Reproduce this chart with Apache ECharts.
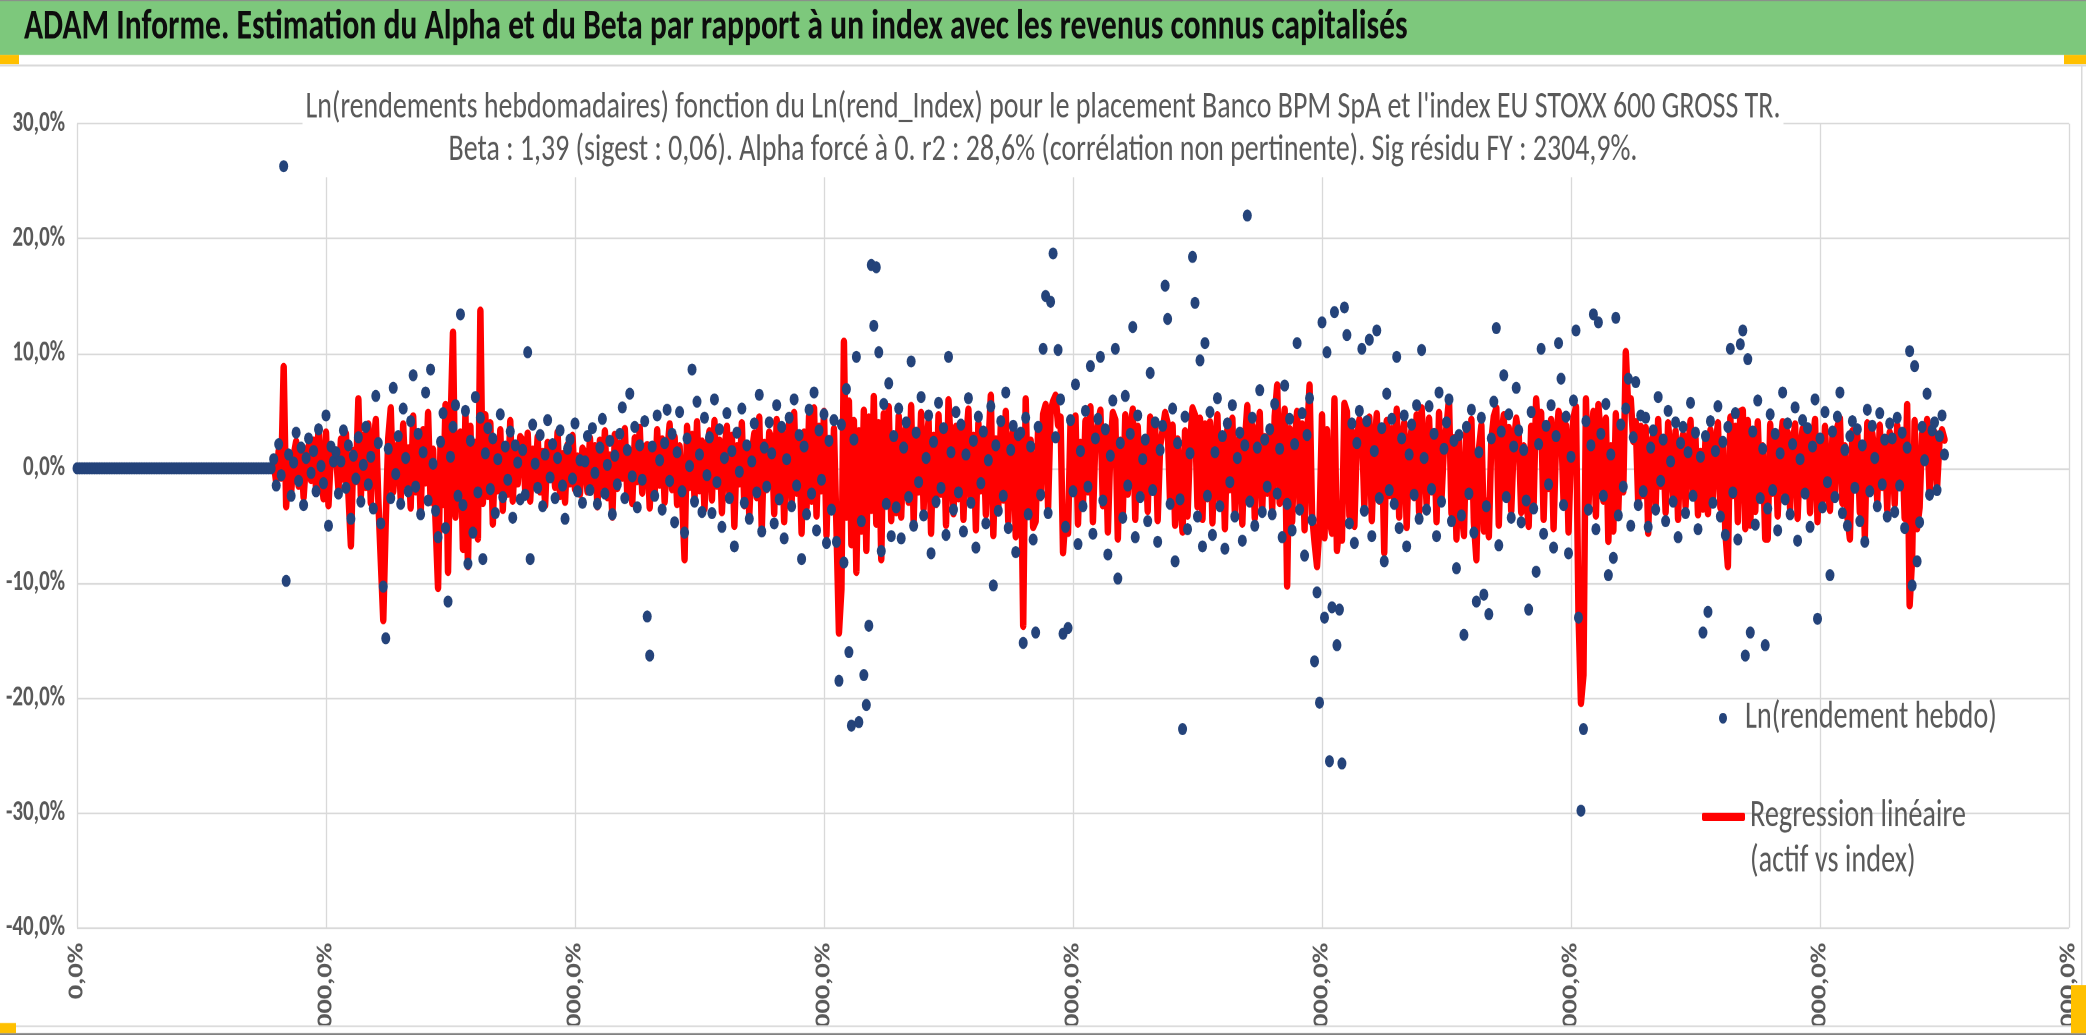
<!DOCTYPE html>
<html><head><meta charset="utf-8">
<script src="https://cdn.jsdelivr.net/npm/echarts@6/dist/echarts.min.js"></script>
<style>
html,body{margin:0;padding:0;background:#fff;overflow:hidden}
#wrap{width:2086px;height:1035px;overflow:hidden;position:relative;background:#fff}
#chart{width:2086px;height:766.667px;transform:scaleY(1.35);transform-origin:0 0}
</style></head>
<body><div id="wrap"><div id="chart"></div></div>
<script>
// ---------- texts ----------
const mainTitle = 'ADAM Informe. Estimation du Alpha et du Beta par rapport à un index avec les revenus connus capitalisés';
const subTitleLines = [
  "Ln(rendements hebdomadaires) fonction du Ln(rend_Index) pour le placement Banco BPM SpA et l'index EU STOXX 600 GROSS TR.",
  "Beta : 1,39 (sigest : 0,06). Alpha forcé à 0. r2 : 28,6% (corrélation non pertinente). Sig résidu FY : 2304,9%."
];
const blueName = 'Ln(rendement hebdo)';
const redName = 'Regression linéaire\n(actif vs index)';

// ---------- axes ----------
const yMin = -40, yMax = 30, yStep = 10;      // percent
const xMin = 0, xMax = 1600, xStep = 200;     // week index

// ---------- data (percent) ----------
const weekStep = 2;
const blueStartWeek = 0;
const redStartWeek = 158;
const blueY = [
0,0,0,0,0,0,0,0,0,0,0,0,0,0,0,0,0,0,0,0,0,0,0,0,0,0,0,0,0,0,0,0,0,0,0,0,0,0,0,0,0,0,0,0,0,0,0,0,0,0,0,0,0,0,0,0,0,0,0,0,0,0,0,0,0,0,0,0,0,0,0,0,0,0,0,0,0,0,0,
0.8,-1.5,2.1,-0.6,26.3,-9.8,1.2,-2.4,0.5,3.1,-1.1,1.8,-3.2,0.9,2.6,-0.4,1.5,-2.0,3.4,0.2,-1.3,4.6,-5.0,1.9,0.6,
1.4,-2.2,0.6,3.3,-1.7,2.0,-4.4,1.1,-0.9,2.7,-2.9,0.3,3.6,-1.4,1.0,-3.5,6.3,2.2,-4.8,-10.3,-14.8,1.7,-2.6,7.0,-0.5,
2.8,-3.1,5.2,0.9,-2.0,4.1,8.1,-1.6,3.0,-4.0,1.4,6.6,-2.8,8.6,0.4,-3.7,-6.0,2.3,4.8,-5.2,-11.6,1.0,3.6,5.5,-2.4,
13.4,-3.2,5.0,-8.3,2.4,-5.6,6.2,-2.1,4.4,-7.9,1.3,3.5,-1.8,2.6,-3.9,0.8,4.7,-2.5,1.9,-1.0,3.2,-4.3,2.0,0.5,-2.7,
1.6,-2.3,10.1,-7.9,3.8,0.4,-1.7,2.9,-3.3,1.2,4.2,-0.8,2.1,-2.6,0.9,3.3,-1.5,-4.4,1.7,2.5,-0.9,3.9,-2.0,0.7,-3.0,
0.6,2.8,-1.9,3.5,-0.4,-3.1,1.8,4.3,-2.2,0.3,2.4,-4.0,1.1,-1.4,3.0,5.3,-2.6,1.6,6.5,-0.7,3.6,-3.4,2.0,-1.0,4.1,
-12.9,-16.3,1.9,-2.4,4.6,0.7,-3.6,2.2,5.1,-1.1,3.0,-4.7,1.4,4.9,-2.0,-5.6,2.6,0.2,8.6,-2.9,5.8,1.2,-3.8,4.4,-0.6,
2.7,-3.9,6.0,-1.2,3.4,-5.1,0.9,4.8,-2.6,1.5,-6.8,3.1,-0.3,5.2,-3.0,2.0,-4.4,0.6,3.9,-2.1,6.4,-5.5,1.8,-1.6,4.0,
1.3,-4.8,5.5,-2.7,3.6,-6.1,0.8,4.4,-3.3,6.0,-1.5,2.9,-7.9,1.9,-4.0,5.1,-2.2,6.6,-5.4,3.3,-1.0,4.7,-6.5,2.4,-3.6,
4.2,-6.4,-18.5,3.8,-8.2,6.9,-16.0,-22.4,2.5,9.7,-22.1,-4.6,-18.0,-20.6,-13.7,17.7,12.4,17.5,10.1,-7.2,5.6,-3.1,7.4,-5.9,2.8,
-3.4,5.2,-6.1,1.8,4.0,-2.5,9.3,-5.0,3.1,-1.2,6.2,-4.1,0.9,4.6,-7.4,2.3,-2.9,5.7,-1.7,3.5,-5.8,9.7,1.4,-3.6,4.9,
-2.1,3.8,-5.5,1.2,6.1,-3.0,2.4,-6.9,4.5,-1.3,3.2,-4.8,0.7,5.4,-10.2,2.0,-3.7,4.1,-2.4,6.6,-5.2,1.6,3.7,-7.3,2.9,
3.1,-15.2,4.4,-4.0,1.9,-6.2,-14.3,3.6,-2.3,10.4,15.0,-3.9,14.5,18.7,2.7,10.3,6.0,-14.4,-5.1,-13.9,4.2,-2.0,7.3,-6.6,1.5,
-3.3,5.0,-1.6,8.9,-5.7,2.6,4.3,9.7,-2.8,3.4,-7.5,1.1,5.9,10.4,-9.6,2.2,-4.3,6.3,-1.5,3.0,12.3,-6.0,4.6,-2.5,0.8,
2.5,-4.6,8.3,-1.9,4.0,-6.4,1.6,3.7,15.9,13.0,-3.1,5.2,-8.1,2.2,-2.7,-22.7,4.5,-5.3,1.3,18.4,14.4,-4.2,9.4,-6.8,10.9,
-2.4,4.9,-5.8,1.4,6.1,-3.3,2.8,-7.0,3.9,-1.2,5.5,-4.2,0.9,3.1,-6.3,2.0,22.0,-2.9,4.4,-5.0,1.8,6.8,-3.8,2.5,-1.6,
3.4,-4.0,5.6,-2.2,1.7,-6.0,7.2,-3.1,4.3,-5.4,2.1,10.9,-3.6,4.8,-7.6,2.9,6.1,-4.5,-16.8,-10.8,-20.4,12.7,-13.0,10.1,-25.5,
-12.1,13.6,-15.4,-12.3,-25.7,14.0,11.6,-4.8,3.9,-6.5,2.2,5.0,10.4,-3.7,4.1,11.2,-5.9,1.5,12.0,-2.6,3.5,-8.1,6.5,-1.9,4.3,
-3.1,9.7,-5.2,2.6,4.6,-6.8,1.2,3.8,-2.3,5.5,-4.4,10.3,0.9,-3.6,5.4,-1.8,3.0,-5.9,6.6,-2.9,1.7,4.0,6.0,-4.6,2.4,
-8.7,2.9,-4.1,-14.5,3.6,-2.2,5.1,-5.6,-11.6,1.4,4.4,-11.0,-3.3,-12.7,2.6,5.8,12.2,-6.7,3.2,8.1,-2.5,4.7,-4.3,1.9,7.0,
3.3,-4.7,1.6,-2.8,-12.3,4.9,-3.5,-9.0,2.1,10.4,-5.7,3.7,-1.4,5.5,-6.9,2.8,10.9,7.8,-3.2,4.5,-7.4,1.0,5.9,12.0,-13.0,
-29.8,-22.7,4.1,-3.6,2.0,13.4,-5.3,12.7,3.0,-2.4,5.6,-9.3,1.2,-7.8,13.1,-4.1,3.8,-1.6,5.2,7.8,-5.0,2.7,7.5,-3.2,4.6,
-2.0,4.4,-5.1,1.8,3.3,-3.6,6.2,-1.1,2.5,-4.6,5.0,0.6,-2.9,4.0,-6.0,2.2,3.6,-3.9,1.4,5.7,-2.4,3.1,-5.3,1.0,-14.3,
2.8,-12.5,4.1,-3.0,1.5,5.4,-4.2,2.3,-5.8,3.6,10.4,-2.1,4.8,-6.2,10.8,12.0,-16.3,9.5,-14.3,3.2,-4.9,5.9,-2.6,1.7,-15.4,
-3.5,4.7,-1.9,3.0,-5.4,1.3,6.6,-2.7,3.9,-4.0,2.1,5.3,-6.3,0.8,4.2,-2.2,3.5,-5.1,1.9,6.0,-13.1,2.6,-3.4,4.9,-1.2,
-9.3,3.2,-2.5,4.5,6.6,-3.9,1.6,-5.0,2.8,4.1,-1.7,3.4,-4.6,2.0,-6.4,5.1,-2.0,3.7,0.9,-3.3,4.8,-1.4,2.5,-4.2,3.9,
2.6,-3.8,4.4,-1.5,3.1,-5.2,1.8,10.2,-10.2,8.9,-8.1,-4.7,3.6,0.7,6.5,-2.3,3.3,4.0,-1.9,2.8,4.6,1.2
];
const redY = [
0.5,-1.2,1.5,-0.8,8.8,-3.3,0.9,-2.1,1.1,2.3,-1.5,1.6,-2.5,0.7,1.9,-1.0,2.4,-1.8,3.5,-0.6,-2.6,3.1,-3.2,1.4,0.4,
1.2,-1.8,2.5,-0.9,3.0,-2.2,-6.7,1.5,-1.1,6.0,-2.4,2.8,-1.6,3.8,-3.0,1.9,4.2,-2.7,-8.0,-13.2,-4.5,2.6,5.2,-2.0,1.3,
2.1,-2.6,3.8,-1.4,1.7,-3.4,4.5,-2.0,2.9,-4.1,3.3,-1.2,4.8,-2.9,1.6,-4.6,-10.4,2.2,-3.1,5.5,-9.0,3.5,11.8,-4.2,2.0,
3.1,-7.0,4.8,-8.5,3.6,-5.6,2.2,-6.1,13.7,-3.0,4.6,-2.4,3.9,-4.8,2.5,-1.9,3.3,-3.6,1.8,-2.2,4.1,-2.8,1.5,-1.3,2.7,
2.4,-1.9,3.0,-2.8,1.6,-1.1,2.7,-2.0,1.4,-3.2,2.2,-0.9,1.9,-1.6,3.1,-2.4,1.2,-2.9,2.0,-1.3,2.8,-1.8,1.0,-2.2,1.7,
1.3,-2.0,2.6,-1.2,1.9,-3.3,2.4,-1.5,3.2,-2.5,1.1,-4.2,2.9,-1.7,2.1,-0.8,3.4,-2.3,1.5,-3.0,2.6,-1.1,3.5,-2.1,1.8,
2.0,-3.4,1.6,-2.1,3.3,-1.4,2.5,-2.9,1.2,3.8,-1.8,2.7,-3.1,1.9,-2.4,-7.9,3.6,-1.6,2.9,-2.6,4.0,-1.9,2.3,-3.5,1.7,
3.2,-2.7,4.1,-1.5,2.4,-3.8,1.6,3.6,-2.2,2.8,-5.0,1.9,-1.3,3.9,-3.2,2.1,-4.1,1.4,3.0,-2.5,4.4,-5.3,2.2,-1.8,3.1,
2.6,-3.9,4.2,-2.4,3.5,-4.6,1.8,3.9,-3.0,4.8,-2.1,2.7,-5.6,3.1,-3.4,4.5,-2.8,5.2,-4.1,3.6,-1.9,4.9,-5.8,2.5,-3.3,
3.4,-5.1,-14.3,-10.5,11.0,-4.2,5.8,-6.6,4.1,-9.0,3.2,-5.4,5.0,-7.1,4.4,-3.6,6.2,-4.8,3.9,-7.9,4.7,-3.0,5.3,-4.5,2.9,
-3.8,4.5,-4.2,2.6,3.7,-2.9,5.4,-4.6,3.0,-2.0,4.8,-3.5,2.1,4.1,-5.6,2.8,-3.1,4.6,-2.2,3.3,-4.9,5.9,1.7,-3.9,3.6,
-2.6,3.4,-4.4,2.2,5.1,-3.1,2.8,-5.3,3.9,-1.9,3.0,-4.0,1.8,6.3,-5.8,2.5,-3.3,3.7,-2.7,4.9,-4.6,2.0,3.3,-5.9,2.6,
3.0,-13.7,6.0,-3.8,2.4,-5.1,-4.6,3.5,-2.5,4.7,5.5,-3.4,4.9,5.8,6.3,3.8,4.4,-7.3,-4.1,-5.6,3.9,-2.1,4.5,-4.8,2.2,
-3.0,4.1,-2.0,5.3,-4.6,2.7,3.9,5.0,-3.2,3.1,-5.5,1.6,4.8,4.2,-6.1,2.4,-3.8,4.6,-2.2,3.3,5.1,-4.4,3.6,-2.6,1.9,
2.3,-3.7,4.4,-2.0,3.5,-4.5,2.0,3.3,4.8,3.9,-3.0,3.7,-4.9,2.5,-2.4,-5.5,3.2,-4.1,2.1,5.2,4.6,-3.3,4.3,-4.4,3.8,
-2.6,4.0,-4.7,1.9,4.6,-3.4,2.6,-5.2,3.4,-1.8,4.3,-3.9,1.6,2.9,-4.8,2.2,5.4,-3.0,3.7,-4.3,2.0,4.8,-3.5,2.7,-2.1,
2.8,-3.5,4.5,7.2,-3.0,2.6,5.1,-10.2,3.4,-4.6,2.2,4.9,-3.2,3.8,-5.3,2.5,7.2,-4.0,-6.4,-8.5,-5.0,4.6,-6.0,3.3,-4.4,
-5.6,6.0,-7.1,-4.9,-6.2,5.6,4.9,-4.1,3.2,-5.0,2.5,4.2,3.8,-3.3,3.6,4.4,-4.5,1.9,4.7,-2.8,3.0,-7.3,4.1,-2.3,3.4,
-3.0,5.1,-4.2,2.7,3.9,-5.1,1.8,3.4,-2.5,4.6,-3.8,5.2,1.4,-3.1,4.3,-2.0,2.9,-4.6,4.8,-2.6,2.0,3.6,6.0,-3.9,2.6,
-6.1,2.5,-3.6,-5.8,3.3,-2.4,4.2,-4.7,-7.9,1.6,3.7,-5.4,-2.9,-5.9,2.4,4.5,5.2,-4.9,2.9,4.6,-2.6,3.5,-3.7,2.1,4.3,
2.9,-3.8,1.9,-2.6,-5.0,3.6,-3.0,6.0,2.3,4.8,-4.4,3.1,-1.7,4.2,-5.2,2.4,4.9,4.1,-2.8,3.7,-5.5,1.5,4.4,5.3,-12.5,
-20.4,-18.0,6.0,-3.4,2.6,4.9,-4.1,5.5,2.5,-2.8,4.3,-6.3,1.9,-5.4,4.7,-3.6,3.1,-2.0,10.1,5.2,6.0,2.4,4.0,-3.0,3.6,
-2.3,3.5,-5.6,2.1,2.8,-3.2,4.2,-1.5,2.3,-3.8,3.9,1.2,-2.6,3.2,-4.4,2.0,2.9,-3.3,1.6,4.1,-2.2,2.6,-4.0,1.4,-3.5,
2.4,-3.9,3.3,-2.5,1.8,3.9,-3.4,2.2,-5.6,-8.5,4.4,-2.3,3.6,-4.6,4.9,5.0,-5.2,4.1,-4.9,2.6,-3.7,4.0,-2.4,1.9,-6.1,
-6.1,3.8,-2.1,2.7,-4.1,1.7,4.0,-2.6,3.1,-3.5,2.2,3.8,-4.3,1.4,3.4,-2.0,2.9,-3.8,2.0,4.2,-4.6,2.3,-2.9,3.6,-1.5,
-3.6,2.8,-2.2,3.6,4.3,-3.0,1.9,-4.2,-6.1,3.2,-1.6,2.9,-3.8,1.8,-5.9,3.9,-2.1,3.0,1.2,-2.8,3.7,-1.6,2.2,-3.6,3.1,
2.1,-3.1,3.7,-1.6,2.5,-4.3,5.5,-11.9,-7.8,4.1,-5.2,-3.4,3.0,1.1,4.2,-2.2,2.7,3.1,-1.7,2.4,3.3,2.5
];

// ---------- build ----------
const K = 1.35;                       // vertical stretch of the picture
const H = 1035 / K;
const blueData = blueY.map((v, i) => [blueStartWeek + i * weekStep, v]);
const redData = redY.map((v, i) => [redStartWeek + i * weekStep, v]);

const ctx = document.createElement('canvas').getContext('2d');
function avail(f) {
  const s = 'mmmWWiiil0,%abcxyz';
  ctx.font = '50px monospace'; const a = ctx.measureText(s).width;
  ctx.font = '50px "' + f + '", monospace'; const b = ctx.measureText(s).width;
  return Math.abs(a - b) > 0.5;
}
function pick(list) { for (const f of list) if (avail(f)) return f; return 'sans-serif'; }
function fit(text, weight, family, target) {
  ctx.font = weight + ' 100px "' + family + '"';
  return 100 * target / ctx.measureText(text).width;
}
const titleFont = pick(['Carlito', 'Liberation Sans Narrow', 'Arial Narrow', 'Liberation Sans']);
const bodyFont = pick(['Carlito', 'Liberation Sans', 'Arial']);
const axisFont = pick(['Carlito', 'Liberation Sans', 'Arial']);

const titleSize = fit(mainTitle, 'bold', titleFont, 1384);
const subSize = fit(subTitleLines[0], 'normal', bodyFont, 1476);
const legSize = fit(blueName, 'normal', bodyFont, 252);
const axisSize = fit('-40,0%', 'bold', axisFont, 59);
const subLH = 31.6, legLH = 33.5;

const fmt = v => (Math.abs(v) < 1e-9 ? 0 : v).toFixed(1).replace('.', ',') + '%';
const grey = '#595959', gridGrey = '#d9d9d9';

const chart = echarts.init(document.getElementById('chart'), null, { devicePixelRatio: 2 });
chart.setOption({
  animation: false,
  backgroundColor: '#ffffff',
  title: [
    { text: mainTitle, left: 24, top: 20.5 - titleSize * 0.6, padding: 0,
      textStyle: { fontFamily: titleFont, fontWeight: 'bold', fontSize: titleSize, lineHeight: titleSize * 1.2, color: '#0d0d0d' } },
    { text: subTitleLines.join('\n'), left: 'center', top: 79.8 - subLH / 2 - 4, padding: [4, 3],
      backgroundColor: '#ffffff',
      textStyle: { fontFamily: bodyFont, fontWeight: 'normal', fontSize: subSize, lineHeight: subLH, color: grey } }
  ],
  legend: [
    { data: [blueName], orient: 'vertical', left: 1719, top: 532 - legLH / 2, padding: 0,
      itemWidth: 8, itemHeight: 8, icon: 'circle', selectedMode: false,
      textStyle: { fontFamily: bodyFont, fontSize: legSize, lineHeight: legLH, color: grey, padding: [0, 0, 0, 13] } },
    { data: [redName], orient: 'vertical', left: 1702, top: 605 - 1.5 * legLH, padding: 0,
      itemWidth: 43, itemHeight: 6, icon: 'roundRect', selectedMode: false,
      formatter: name => '\n' + name,
      textStyle: { fontFamily: bodyFont, fontSize: legSize, lineHeight: legLH, color: grey } }
  ],
  grid: { left: 77, right: 17, top: 91.6, bottom: H - 686.9, containLabel: false, outerBoundsMode: 'none' },
  xAxis: {
    type: 'value', min: xMin, max: xMax, interval: xStep,
    axisLine: { show: false }, axisTick: { show: false },
    splitLine: { show: true, lineStyle: { color: gridGrey, width: 1.3 } },
    axisLabel: { rotate: 90, margin: 11, formatter: v => fmt(v * 100),
      fontFamily: axisFont, fontWeight: 'bold', fontSize: axisSize, color: grey, hideOverlap: false }
  },
  yAxis: {
    type: 'value', min: yMin, max: yMax, interval: yStep,
    axisLine: { show: false }, axisTick: { show: false },
    splitLine: { show: true, lineStyle: { color: gridGrey, width: 1.3 } },
    axisLabel: { margin: 12, formatter: v => fmt(v),
      fontFamily: axisFont, fontWeight: 'bold', fontSize: axisSize, color: grey }
  },
  series: [
    { name: redName, type: 'line', data: redData, showSymbol: false, symbol: 'none',
      lineStyle: { color: '#ff0000', width: 6.5, cap: 'round', join: 'round' },
      itemStyle: { color: '#ff0000' }, z: 2 },
    { name: blueName, type: 'scatter', data: blueData, symbol: 'circle', symbolSize: 9,
      itemStyle: { color: '#24437a', opacity: 1 }, z: 3 }
  ],
  graphic: [
    { type: 'rect', z: -10, shape: { x: 0, y: 0, width: 2086, height: 40.6 }, style: { fill: '#7dc87c' } },
    { type: 'rect', z: -9, shape: { x: 0, y: 0, width: 2086, height: 0.8 }, style: { fill: '#8c8c8c' } },
    { type: 'rect', z: -9, shape: { x: 0, y: 40.6, width: 19, height: 7 }, style: { fill: '#ffc000' } },
    { type: 'rect', z: -9, shape: { x: 2064, y: 40.6, width: 22, height: 7 }, style: { fill: '#ffc000' } },
    { type: 'rect', z: -9, shape: { x: 0, y: 47.8, width: 2086, height: 1.4 }, style: { fill: gridGrey } },
    { type: 'rect', z: -9, shape: { x: 2081, y: 47.8, width: 1.5, height: 712 }, style: { fill: gridGrey } },
    { type: 'rect', z: 50, shape: { x: 0, y: 759.6, width: 2086, height: 8 }, style: { fill: '#ffffff' } },
    { type: 'rect', z: 51, shape: { x: 0, y: 759.6, width: 2086, height: 1.2 }, style: { fill: gridGrey } },
    { type: 'rect', z: 51, shape: { x: 0, y: 765.2, width: 2086, height: 1.5 }, style: { fill: '#7f7f7f' } },
    { type: 'rect', z: 52, shape: { x: 0, y: 757.8, width: 16, height: 7.4 }, style: { fill: '#ffc000' } },
    { type: 'rect', z: 52, shape: { x: 2071, y: 729.6, width: 15, height: 35.6 }, style: { fill: '#ffc000' } }
  ]
});
</script>
</body></html>
